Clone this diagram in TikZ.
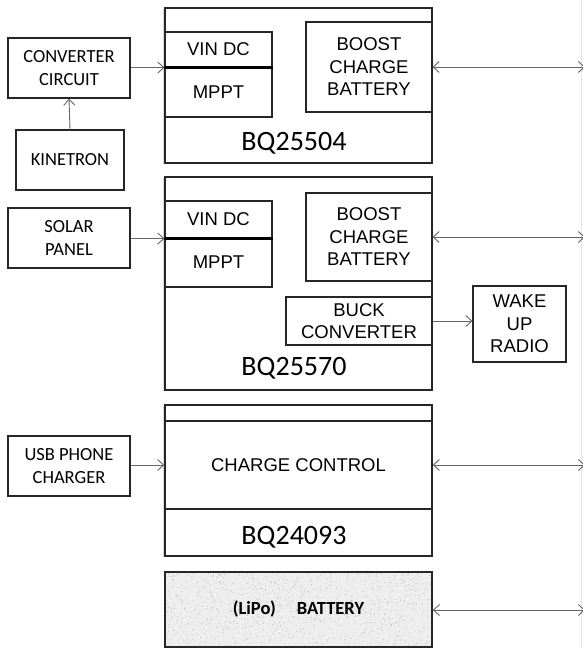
\documentclass[tikz,border=0pt]{standalone}
\usepackage{fontspec}
\setmainfont{Carlito}
\newfontfamily\arialf{Liberation Sans}
\usetikzlibrary{arrows.meta,shadows}

\begin{document}
\begin{tikzpicture}[x=1pt,y=-1pt,
  sbox/.style={draw=black!85, line width=1.1pt, inner sep=0pt, align=center, fill=white,
    font=\fontsize{18.5}{22.5}\selectfont},
  abox/.style={sbox, font=\arialf\fontsize{18.5}{22.5}\selectfont},
  chip/.style={draw=black!85, line width=1.8pt, inner sep=0pt, fill=white,
    drop shadow={shadow xshift=-1.6pt, shadow yshift=-1.2pt, opacity=0.3}},
  chiplabel/.style={font=\fontsize{28}{32}\selectfont, inner sep=0pt},
  conn/.style={draw=black!60, line width=0.9pt, -{Straight Barb[length=6pt,width=11pt]}},
  bconn/.style={draw=black!60, line width=0.9pt,
    {Straight Barb[length=6pt,width=11pt]}-{Straight Barb[length=6pt,width=11pt]}}
]
\useasboundingbox (0,0) rectangle (583,648);
\fill[white] (0,0) rectangle (583,648);

% faint edge line at right
\coordinate (edgetop) at (581,0);
\coordinate (edgebot) at (581,648);
\draw[black!10, line width=1pt] (edgetop) -- (edgebot);

% ---------- BQ25504 ----------
\node[chip, minimum width=267pt, minimum height=155pt] (bq1) at (298.5,85.5) {};
\node[abox, minimum width=107pt, minimum height=35pt] (vin1) at (218.5,49.5) {VIN DC};
\node[abox, minimum width=107pt, minimum height=50pt] (mppt1) at (218.5,92) {MPPT};
\draw[line width=2.6pt] (vin1.south west) -- (vin1.south east);
\node[abox, minimum width=126pt, minimum height=90pt] (boost1) at (369,67) {BOOST\\CHARGE\\BATTERY};
\node[chiplabel] (lab1) at (294,143) {BQ25504};

\node[sbox, minimum width=122pt, minimum height=60pt] (conv) at (69,68) {CONVERTER\\CIRCUIT};
\node[sbox, minimum width=108pt, minimum height=60pt] (kin) at (70,160) {KINETRON};

% ---------- BQ25570 ----------
\node[chip, minimum width=267pt, minimum height=213pt] (bq2) at (298.5,283.5) {};
\node[abox, minimum width=107pt, minimum height=37pt] (vin2) at (218.5,219.5) {VIN DC};
\node[abox, minimum width=107pt, minimum height=49pt] (mppt2) at (218.5,262.5) {MPPT};
\draw[line width=2.6pt] (vin2.south west) -- (vin2.south east);
\node[abox, minimum width=126pt, minimum height=88pt] (boost2) at (369,237) {BOOST\\CHARGE\\BATTERY};
\node[abox, minimum width=146pt, minimum height=48pt] (buck) at (359,321) {BUCK\\CONVERTER};
\node[chiplabel] (lab2) at (294,368) {BQ25570};

\node[sbox, minimum width=122pt, minimum height=60pt] (solar) at (69,238) {SOLAR\\PANEL};
\node[abox, minimum width=93pt, minimum height=76pt] (wake) at (519.5,324) {WAKE\\UP\\RADIO};

% ---------- BQ24093 ----------
\node[chip, minimum width=267pt, minimum height=151pt] (bq3) at (298.5,480.5) {};
\node[abox, line width=1.5pt, minimum width=267pt, minimum height=88pt] (cc) at (298.5,465) {CHARGE CONTROL};
\node[chiplabel] (lab3) at (294,537) {BQ24093};

\node[sbox, minimum width=122pt, minimum height=60pt] (usb) at (69,466) {USB PHONE\\CHARGER};

% ---------- Battery ----------
\fill[black!7] (165,572) rectangle (432,648);
\begin{scope}
  \clip (165,572) rectangle (432,648);
  \pgfmathsetseed{11}
  \foreach \i in {1,...,900}{
    \fill[black!25] ({165+267*rnd},{572+76*rnd}) circle (0.55);
  }
  \foreach \i in {1,...,500}{
    \fill[white] ({165+267*rnd},{572+76*rnd}) circle (0.6);
  }
\end{scope}
\node[draw=black!85, line width=1.8pt, inner sep=0pt, minimum width=267pt, minimum height=75pt,
  font=\bfseries\fontsize{18.5}{22}\selectfont] (batt) at (298.5,609.5) {(LiPo)\hspace{21pt}BATTERY};

% ---------- right-hand coordinates ----------
\coordinate (r1) at (585,67);
\coordinate (r2) at (585,237);
\coordinate (r3) at (585,465);
\coordinate (r4) at (585,610);

% ---------- connectors ----------
\draw[conn] (kin.north) -- (conv.south);
\draw[conn] (conv.east |- vin1.south) -- (vin1.south west);
\draw[bconn] (boost1.east) -- (r1);

\draw[conn] (solar.east |- vin2.south) -- (vin2.south west);
\draw[bconn] (boost2.east) -- (r2);
\draw[conn] (buck.east) -- (buck.east -| wake.west);

\draw[conn] (usb.east |- cc.west) -- (cc.west);
\draw[bconn] (cc.east) -- (r3);
\draw[bconn] (batt.east |- r4) -- (r4);
\end{tikzpicture}
\end{document}
